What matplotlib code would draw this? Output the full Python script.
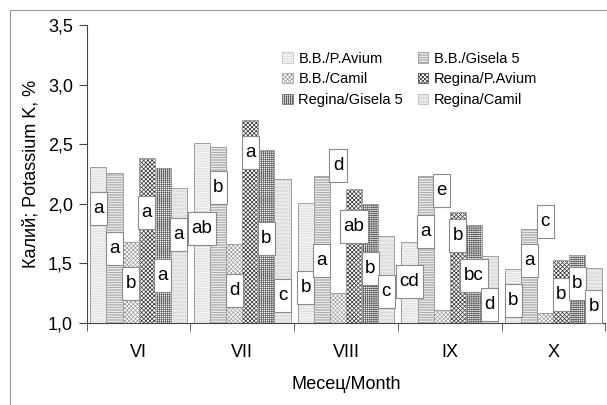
import matplotlib.pyplot as plt
import numpy as np
from matplotlib.patches import Patch, Rectangle
from matplotlib.ticker import FuncFormatter

plt.rcParams["font.family"] = ["Liberation Sans", "DejaVu Sans"]
plt.rcParams["hatch.linewidth"] = 0.5

months = ["VI", "VII", "VIII", "IX", "X"]
series = ["B.B./P.Avium", "B.B./Gisela 5", "B.B./Camil",
          "Regina/P.Avium", "Regina/Gisela 5", "Regina/Camil"]

bb_pavium = [2.31, 2.51, 2.01, 1.68, 1.45]
bb_gisela = [2.26, 2.48, 2.23, 2.23, 1.79]
bb_camil = [1.68, 1.66, 1.25, 1.11, 1.08]
reg_pavium = [2.38, 2.70, 2.12, 1.93, 1.53]
reg_gisela = [2.30, 2.45, 2.00, 1.82, 1.57]
reg_camil = [2.13, 2.21, 1.73, 1.56, 1.46]

# significance letters, one list per series
letters = [
    ["a", "ab", "b", "cd", "b"],
    ["a", "b", "a", "a", "a"],
    ["b", "d", "d", "e", "c"],
    ["a", "a", "ab", "b", "b"],
    ["a", "b", "b", "bc", "b"],
    ["a", "c", "c", "d", "b"],
]
# where the letter boxes sit (y centre)
letter_y = [
    [1.96, 1.79, 1.30, 1.35, 1.19],
    [1.625, 2.14, 1.52, 1.77, 1.52],
    [1.33, 1.275, 2.325, 2.115, 1.85],
    [1.93, 2.43, 1.81, 1.73, 1.235],
    [1.40, 1.71, 1.46, 1.40, 1.33],
    [1.74, 1.23, 1.26, 1.15, 1.135],
]

values = [bb_pavium, bb_gisela, bb_camil, reg_pavium, reg_gisela, reg_camil]
hatches = ["..........", "----------", "xxxxxxxx", "xxxxxxxx",
           "++++++++", "............"]
hatch_cols = ["#b8b8b8", "#8a8a8a", "#9a9a9a", "#303030", "#5e5e5e", "#b0b0b0"]


def comma_fmt(val, pos):
    return "{:.1f}".format(val).replace(".", ",")


fig = plt.figure(figsize=(6.07, 4.05), dpi=100)
ax = fig.add_axes([0.143, 0.203, 0.854, 0.735])

# outer chart border
fig.add_artist(Rectangle((0.0165, -0.1), 1.2, 1.075, transform=fig.transFigure,
                         fill=False, edgecolor="#999999", linewidth=0.8))

x = np.arange(len(months))
w = 0.155
for i, vals in enumerate(values):
    xs = x + (i - 2.5) * w
    ax.bar(xs, np.array(vals) - 1.0, w, bottom=1.0, color="white",
           hatch=hatches[i], edgecolor=hatch_cols[i], linewidth=0, zorder=2)
    ax.bar(xs, np.array(vals) - 1.0, w, bottom=1.0, fill=False,
           edgecolor="#a0a0a0", linewidth=0.7, zorder=3)
    for j, xc in enumerate(xs):
        txt = letters[i][j]
        bw = 0.165 if len(txt) == 1 else 0.265
        bh = 0.277
        yc = letter_y[i][j]
        ax.add_patch(Rectangle((xc - bw / 2, yc - bh / 2), bw, bh,
                               facecolor="white", edgecolor="#8a8a8a",
                               linewidth=0.8, zorder=4, clip_on=False))
        ax.text(xc, yc, txt, ha="center", va="center", fontsize=13.5, zorder=5)

ax.set_xlim(-0.5, 4.5)
ax.set_ylim(1.0, 3.5)
ax.set_yticks(np.arange(1.0, 3.51, 0.5))
ax.yaxis.set_major_formatter(FuncFormatter(comma_fmt))
ax.set_xticks(x)
ax.set_xticklabels(months)
ax.set_xticks(np.arange(-0.5, 4.6, 1.0), minor=True)
ax.tick_params(axis="x", which="major", length=0, pad=15, labelsize=13)
ax.tick_params(axis="x", which="minor", length=6, color="#444444")
ax.tick_params(axis="y", length=6, color="#444444", labelsize=13, pad=4)

for s in ["top", "right"]:
    ax.spines[s].set_visible(False)
for s in ["left", "bottom"]:
    ax.spines[s].set_color("#444444")

ax.set_ylabel("Калий; Potassium K, %", fontsize=13, labelpad=6)
ax.set_xlabel("Месец/Month", fontsize=13, labelpad=11)

handles = [Patch(facecolor="white", hatch=hatches[i], edgecolor=hatch_cols[i],
                 linewidth=0.5, label=series[i]) for i in range(6)]
order = [0, 2, 4, 1, 3, 5]
ax.legend([handles[k] for k in order], [series[k] for k in order], ncol=2,
          frameon=False, fontsize=10.5, loc="upper left",
          bbox_to_anchor=(0.352, 0.955), handlelength=0.7, handleheight=0.7,
          handletextpad=0.4, columnspacing=1.0, labelspacing=0.45)

fig.savefig("out.png", dpi=100)
